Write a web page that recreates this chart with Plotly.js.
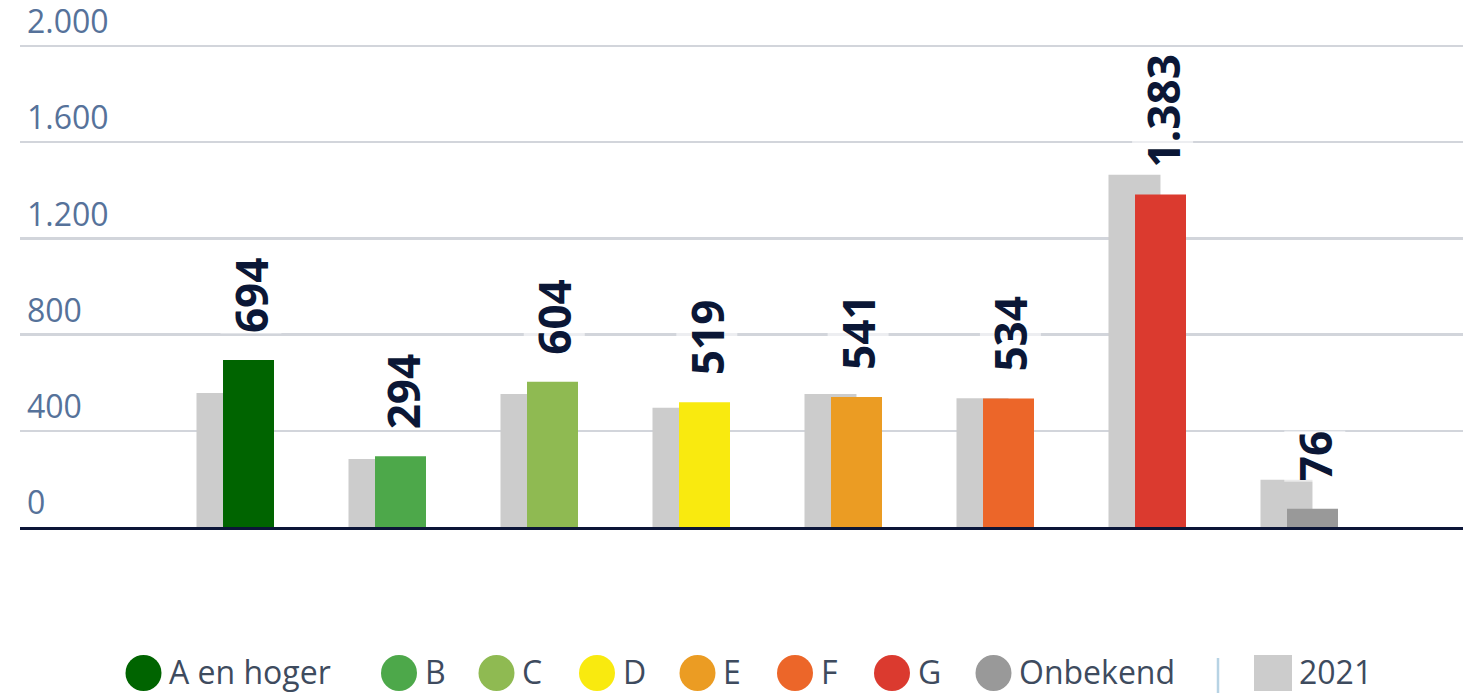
<!DOCTYPE html>
<html><head><meta charset="utf-8">
<script src="https://cdn.plot.ly/plotly-3.0.1.min.js"></script>
<style>html,body{margin:0;padding:0;background:#fff;overflow:hidden}#chart{width:1463px;height:693px}</style>
</head><body><div id="chart"></div>
<script>
// ---- data ----
const categories = ['A en hoger', 'B', 'C', 'D', 'E', 'F', 'G', 'Onbekend'];
const values2022 = [694, 294, 604, 519, 541, 534, 1383, 76];
const values2021 = [557, 283, 553, 496, 553, 535, 1465, 196];
const name2021 = '2021';
const barColors = ['#006400', '#4da84a', '#8fba52', '#f9ea0f', '#eb9c23', '#ec6629', '#db3a2f', '#999999'];
const yTickVals = [0, 400, 800, 1200, 1600, 2000];

// ---- layout helpers ----
const W = 1463, H = 693, ML = 20, MR = 0, MT = 40, MB = 166;
const plotW = W - ML - MR, plotH = H - MT - MB;
const Y_TOP_PX = 46; // pixel row of the 2.000 gridline
const yMax = 2000 * (H - MB - MT) / (H - MB - Y_TOP_PX);
const px2x = p => (p - ML) / plotW;
const px2y = p => (H - MB - p) / plotH;
const STEP = 152, FIRST = 235.5;
const xRange = [(ML - FIRST) / STEP, (W - MR - FIRST) / STEP];

function fmtNL(n) { return String(Math.round(n)).replace(/\B(?=(\d{3})+(?!\d))/g, '.'); }

const traces = [
  {
    type: 'bar', name: name2021, x: categories, y: values2021,
    width: 0.342, offset: -0.2566,
    marker: { color: '#cccccc', line: { width: 0 } },
    showlegend: false, hoverinfo: 'skip'
  },
  {
    type: 'bar', name: '2022', x: categories, y: values2022,
    width: 0.3355, offset: -0.0822,
    marker: { color: barColors, line: { width: 0 } },
    showlegend: false, hoverinfo: 'skip'
  }
];

const annotations = [];
const shapes = [];
// value labels
categories.forEach((c, i) => {
  annotations.push({
    x: c, y: values2022[i], xref: 'x', yref: 'y',
    text: fmtNL(values2022[i]), textangle: -90,
    xanchor: 'center', yanchor: 'bottom', xshift: 15, yshift: 26,
    showarrow: false, borderpad: 0,
    bgcolor: 'rgba(255,255,255,0.6)',
    font: { family: 'Open Sans, sans-serif', size: 44, weight: 700, color: '#0b1736' }
  });
});

// custom legend
const LEG_CX = [143.5, 399, 496.5, 597, 697.5, 795, 892, 993.5];
const LEG_Y = 673, LEG_TY = 671, LEG_R = 18, LEG_TXT = 24.5;
const legFont = { family: 'Open Sans, sans-serif', size: 32, color: '#3e4b5e' };
categories.forEach((c, i) => {
  const cx = LEG_CX[i];
  shapes.push({
    type: 'circle', xref: 'paper', yref: 'paper',
    x0: px2x(cx - LEG_R), x1: px2x(cx + LEG_R), y0: px2y(LEG_Y + LEG_R), y1: px2y(LEG_Y - LEG_R),
    fillcolor: barColors[i], line: { width: 0 }
  });
  annotations.push({
    xref: 'paper', yref: 'paper', x: px2x(cx + LEG_TXT), y: px2y(LEG_TY),
    xanchor: 'left', yanchor: 'middle', text: c, showarrow: false, borderpad: 0,
    font: legFont
  });
});
// separator and 2021 item
shapes.push({
  type: 'line', xref: 'paper', yref: 'paper',
  x0: px2x(1218), x1: px2x(1218), y0: px2y(658), y1: px2y(693),
  line: { color: '#b7d3e4', width: 2.5 }
});
shapes.push({
  type: 'rect', xref: 'paper', yref: 'paper',
  x0: px2x(1254), x1: px2x(1292), y0: px2y(LEG_Y + 18), y1: px2y(LEG_Y - 18),
  fillcolor: '#cccccc', line: { width: 0 }
});
annotations.push({
  xref: 'paper', yref: 'paper', x: px2x(1298), y: px2y(LEG_TY),
  xanchor: 'left', yanchor: 'middle', text: name2021, showarrow: false, borderpad: 0,
  font: legFont
});

const layout = {
  width: W, height: H,
  margin: { l: ML, r: MR, t: MT, b: MB, pad: 0 },
  paper_bgcolor: '#ffffff', plot_bgcolor: '#ffffff',
  separators: ',.',
  barmode: 'overlay',
  showlegend: false,
  font: { family: 'Open Sans, sans-serif' },
  xaxis: {
    type: 'category', range: xRange, showticklabels: false, showgrid: false,
    zeroline: false, showline: true, linecolor: '#0c1638', linewidth: 3, ticks: '', fixedrange: true
  },
  yaxis: {
    range: [0, yMax], tickvals: yTickVals, tickformat: ',d',
    ticklabelposition: 'inside', ticklabelshift: -24, ticklabelstandoff: 4, ticklabeloverflow: 'allow',
    tickfont: { family: 'Open Sans, sans-serif', size: 32, color: '#56729a' },
    ticks: '', showline: false, zeroline: false,
    showgrid: true, gridcolor: '#d2d5db', gridwidth: 2.5, fixedrange: true
  },
  annotations: annotations,
  shapes: shapes
};

Plotly.newPlot('chart', traces, layout, { staticPlot: true, displayModeBar: false });
</script>
</body></html>
